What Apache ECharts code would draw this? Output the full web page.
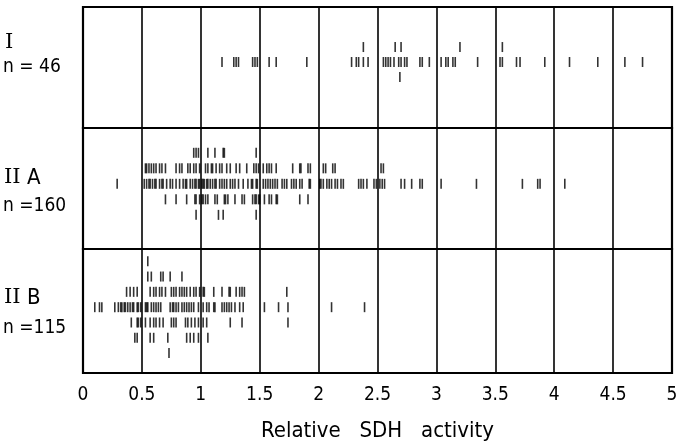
<!DOCTYPE html>
<html><head><meta charset="utf-8">
<script src="https://cdn.jsdelivr.net/npm/echarts@6/dist/echarts.min.js"></script>
<style>html,body{margin:0;padding:0;background:#fff}#c{width:681px;height:446px}</style>
</head><body><div id="c"></div>
<script>
// x-axis ticks
const xTicks = [0, 0.5, 1, 1.5, 2, 2.5, 3, 3.5, 4, 4.5, 5];
const xTitle = 'Relative   SDH   activity';
const groupNames = ['I', 'II A', 'II B'];
const groupN = ['n = 46', 'n =160', 'n =115'];

// Group I (rows: +1 above, 0 main, -1 below)
const I_p1 = [2.38, 2.65, 2.70, 3.20, 3.56];
const I_0 = [1.18, 1.28, 1.30, 1.32, 1.44, 1.46, 1.48, 1.58, 1.64, 1.90, 2.28, 2.32, 2.34, 2.38, 2.42,
  2.55, 2.57, 2.59, 2.61, 2.64, 2.68, 2.70, 2.73, 2.75, 2.86, 2.88, 2.94, 3.04, 3.08, 3.10, 3.14, 3.16,
  3.35, 3.54, 3.56, 3.68, 3.71, 3.92, 4.13, 4.37, 4.60, 4.75];
const I_m1 = [2.69];

// Group IIA
const IIA_p2 = [0.94, 0.96, 0.98, 1.06, 1.12, 1.19, 1.20, 1.47];
const IIA_p1 = [0.53, 0.54, 0.56, 0.58, 0.60, 0.62, 0.65, 0.67, 0.70, 0.79, 0.82, 0.84, 0.89, 0.91, 0.94,
  0.96, 0.99, 1.04, 1.06, 1.09, 1.10, 1.13, 1.16, 1.18, 1.22, 1.25, 1.30, 1.33, 1.39, 1.45, 1.47, 1.49,
  1.53, 1.56, 1.58, 1.60, 1.64, 1.78, 1.84, 1.85, 1.91, 1.93, 2.04, 2.06, 2.12, 2.14, 2.53, 2.55];
const IIA_0 = [0.29, 0.52, 0.54, 0.56, 0.57, 0.59, 0.61, 0.62, 0.65, 0.67, 0.68, 0.71, 0.74, 0.76, 0.79,
  0.82, 0.85, 0.87, 0.88, 0.91, 0.93, 0.95, 0.96, 0.98, 0.99, 1.01, 1.02, 1.03, 1.05, 1.06, 1.08, 1.10,
  1.12, 1.13, 1.16, 1.18, 1.20, 1.22, 1.25, 1.27, 1.29, 1.32, 1.36, 1.40, 1.43, 1.44, 1.47, 1.48, 1.53,
  1.55, 1.57, 1.59, 1.61, 1.63, 1.65, 1.69, 1.71, 1.73, 1.77, 1.79, 1.81, 1.84, 1.86, 1.92, 1.93, 2.01,
  2.02, 2.04, 2.07, 2.09, 2.11, 2.14, 2.16, 2.19, 2.21, 2.34, 2.36, 2.38, 2.41, 2.47, 2.49, 2.52, 2.54,
  2.56, 2.70, 2.73, 2.79, 2.86, 2.88, 3.04, 3.34, 3.73, 3.86, 3.88, 4.09];
const IIA_m1 = [0.70, 0.79, 0.88, 0.95, 0.96, 0.99, 1.01, 1.02, 1.04, 1.06, 1.12, 1.14, 1.20, 1.21, 1.23,
  1.29, 1.35, 1.37, 1.44, 1.46, 1.47, 1.49, 1.50, 1.54, 1.58, 1.60, 1.64, 1.65, 1.84, 1.91];
const IIA_m2 = [0.96, 1.15, 1.19, 1.47];

// Group IIB
const IIB_p3 = [0.55];
const IIB_p2 = [0.55, 0.58, 0.66, 0.68, 0.74, 0.84];
const IIB_p1 = [0.37, 0.40, 0.43, 0.46, 0.57, 0.60, 0.62, 0.65, 0.67, 0.70, 0.75, 0.77, 0.79, 0.82, 0.84,
  0.86, 0.88, 0.91, 0.94, 0.96, 0.99, 1.02, 1.03, 1.11, 1.18, 1.24, 1.25, 1.30, 1.33, 1.35, 1.37, 1.73];
const IIB_0 = [0.10, 0.14, 0.16, 0.27, 0.30, 0.32, 0.33, 0.35, 0.36, 0.38, 0.40, 0.42, 0.43, 0.46, 0.47,
  0.49, 0.53, 0.54, 0.55, 0.58, 0.60, 0.62, 0.64, 0.66, 0.74, 0.76, 0.77, 0.79, 0.81, 0.84, 0.86, 0.88,
  0.90, 0.92, 0.94, 0.98, 1.02, 1.05, 1.07, 1.11, 1.12, 1.18, 1.20, 1.22, 1.24, 1.26, 1.29, 1.33, 1.36,
  1.54, 1.66, 1.74, 2.11, 2.39];
const IIB_m1 = [0.41, 0.46, 0.47, 0.49, 0.53, 0.57, 0.60, 0.62, 0.65, 0.68, 0.75, 0.77, 0.79, 0.87, 0.89,
  0.92, 0.95, 0.98, 1.02, 1.05, 1.25, 1.35, 1.74];
const IIB_m2 = [0.44, 0.46, 0.57, 0.60, 0.72, 0.88, 0.91, 0.94, 0.98, 1.06];
const IIB_m3 = [0.73];

function pts(arr, row) { return arr.map(v => [v, row]); }
const panelData = [
  [].concat(pts(I_p1, 1), pts(I_0, 0), pts(I_m1, -1)),
  [].concat(pts(IIA_p2, 2), pts(IIA_p1, 1), pts(IIA_0, 0), pts(IIA_m1, -1), pts(IIA_m2, -2)),
  [].concat(pts(IIB_p3, 3), pts(IIB_p2, 2), pts(IIB_p1, 1), pts(IIB_0, 0), pts(IIB_m1, -1), pts(IIB_m2, -2), pts(IIB_m3, -3))
];

const grids = [
  {left: 83, right: 9, top: 7, height: 121},
  {left: 83, right: 9, top: 128, height: 121},
  {left: 83, right: 9, top: 249, height: 124}
];
const yRanges = [[-4.4, 3.67], [-4.2, 3.6], [-4.3, 3.8]];
const FONT = '"DejaVu Sans Condensed", "DejaVu Sans", sans-serif';

const option = {
  animation: false,
  backgroundColor: '#fff',
  grid: grids.map(g => Object.assign({show: true, borderColor: '#000', borderWidth: 2.2, backgroundColor: 'transparent'}, g)),
  xAxis: grids.map((g, i) => ({
    gridIndex: i, type: 'value', min: 0, max: 5, interval: 0.5,
    axisLine: {show: false}, axisTick: {show: false},
    splitLine: {show: true, lineStyle: {color: '#000', width: 1.6}},
    axisLabel: {show: i === 2, color: '#000', fontFamily: FONT, fontSize: 19, margin: 13,
      formatter: v => String(v)},
    name: i === 2 ? xTitle : '', nameLocation: 'middle', nameGap: 47,
    nameTextStyle: {color: '#000', fontFamily: FONT, fontSize: 22}
  })),
  yAxis: grids.map((g, i) => ({
    gridIndex: i, type: 'value', min: yRanges[i][0], max: yRanges[i][1],
    axisLine: {show: false}, axisTick: {show: false}, axisLabel: {show: false}, splitLine: {show: false}
  })),
  series: panelData.map((d, i) => ({
    type: 'scatter', xAxisIndex: i, yAxisIndex: i, data: d,
    symbol: 'rect', symbolSize: [1.6, 10], itemStyle: {color: '#000'}, silent: true
  })),
  graphic: [
    {type: 'text', left: 5, top: 32, style: {text: 'I', font: '21px "DejaVu Serif"', fill: '#000'}},
    {type: 'text', left: 3, top: 58, style: {text: groupN[0], font: '19px ' + FONT, fill: '#000'}},
    {type: 'text', left: 4, top: 167, style: {text: '{r|II}{s| A}', rich: {r: {font: '21px "DejaVu Serif"', fill: '#000'}, s: {font: '22px ' + FONT, fill: '#000'}}}},
    {type: 'text', left: 3, top: 197, style: {text: groupN[1], font: '19px ' + FONT, fill: '#000'}},
    {type: 'text', left: 4, top: 287, style: {text: '{r|II}{s| B}', rich: {r: {font: '21px "DejaVu Serif"', fill: '#000'}, s: {font: '22px ' + FONT, fill: '#000'}}}},
    {type: 'text', left: 3, top: 319, style: {text: groupN[2], font: '19px ' + FONT, fill: '#000'}}
  ]
};
const chart = echarts.init(document.getElementById('c'));
chart.setOption(option);
</script></body></html>
